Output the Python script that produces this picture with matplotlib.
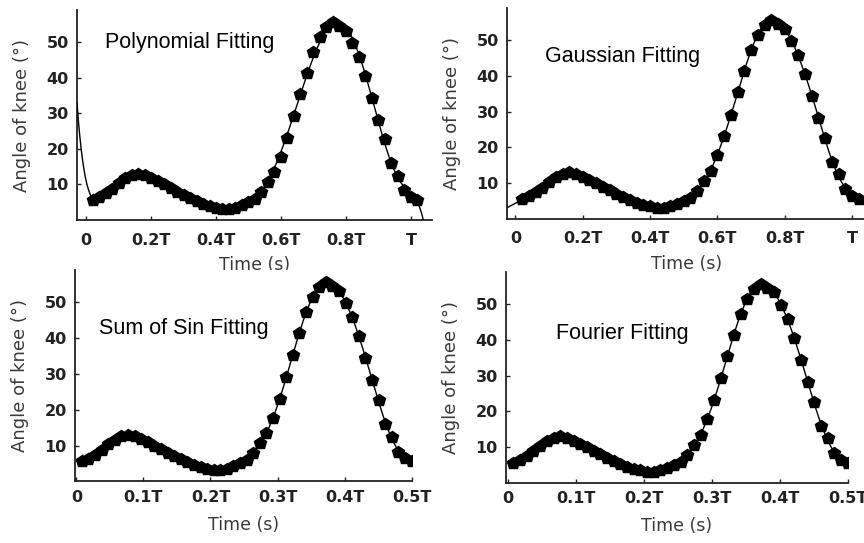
import numpy as np
import matplotlib
matplotlib.use('Agg')
import matplotlib.pyplot as plt

# knee angle (deg) over one gait cycle
angle = [5.6, 6.4, 7.5, 8.8, 10.4, 11.7, 12.6, 13.0, 12.6, 11.8,
         11.0, 10.0, 9.0, 8.0, 7.1, 6.2, 5.4, 4.6, 4.0, 3.5,
         3.2, 3.2, 3.5, 4.2, 5.1, 6.0, 7.9, 10.6, 13.4, 17.8,
         23.1, 29.2, 35.4, 41.4, 47.2, 51.4, 54.2, 55.6, 54.4, 53.2,
         49.8, 45.8, 40.6, 34.4, 28.2, 22.7, 16.0, 12.5, 8.3, 6.5, 5.7]

# sample times (fraction of T) for the full-cycle and half-cycle panels
t_full = np.linspace(0.02, 1.02, len(angle))
t_half = np.linspace(0.008, 0.5, len(angle))

full_ticks = [0, 0.2, 0.4, 0.6, 0.8, 1.0]
full_labels = ['0', '0.2T', '0.4T', '0.6T', '0.8T', 'T']
half_ticks = [0, 0.1, 0.2, 0.3, 0.4, 0.5]
half_labels = ['0', '0.1T', '0.2T', '0.3T', '0.4T', '0.5T']
y_ticks = [10, 20, 30, 40, 50]

titles = ['Polynomial Fitting', 'Gaussian Fitting', 'Sum of Sin Fitting', 'Fourier Fitting']


def poly_fit(t, y, xs, deg=9):
    p = np.polynomial.Polynomial.fit(t, y, deg)
    return p(xs)


def gauss_fit(t, y, xs, n=14, w=0.075):
    c = np.linspace(t.min() - 0.02, t.max() + 0.02, n)
    A = np.exp(-((t[:, None] - c[None, :]) / w) ** 2)
    coef, *_ = np.linalg.lstsq(A, y, rcond=None)
    B = np.exp(-((xs[:, None] - c[None, :]) / w) ** 2)
    return B @ coef


def fourier_fit(t, y, xs, period, nh=7):
    def basis(x):
        cols = [np.ones_like(x)]
        for k in range(1, nh + 1):
            cols.append(np.cos(2 * np.pi * k * x / period))
            cols.append(np.sin(2 * np.pi * k * x / period))
        return np.column_stack(cols)
    coef, *_ = np.linalg.lstsq(basis(t), y, rcond=None)
    return basis(xs) @ coef


fig = plt.figure(figsize=(8.64, 5.43), dpi=100)

# [left, bottom, width, height] in figure fractions
boxes = [[0.0891, 0.5948, 0.4109, 0.3867],
         [0.5868, 0.5967, 0.4150, 0.3886],
         [0.0868, 0.1133, 0.3897, 0.3895],
         [0.5856, 0.1105, 0.3955, 0.3891]]
xlims = [(-0.028, 1.065), (-0.025, 1.04), (-0.002, 0.5), (-0.003, 0.5)]
text_pos = [(0.079, 0.819), (0.107, 0.745), (0.072, 0.699), (0.146, 0.683)]

tick_font = dict(family='DejaVu Sans', weight='bold', size=11.5)
lab_color = '#3a3a3a'

for i in range(4):
    ax = fig.add_axes(boxes[i])
    x0, x1 = xlims[i]
    if i < 2:
        t = t_full
    else:
        t = t_half

    if i == 0:
        xs = np.linspace(x0, x1, 500)
        yfit = poly_fit(t, np.array(angle), xs)
    elif i == 1:
        xs = np.linspace(x0, x1 + 0.01, 500)
        yfit = gauss_fit(t, np.array(angle), xs)
    elif i == 2:
        xs = np.linspace(0, 0.5, 500)
        yfit = fourier_fit(t, np.array(angle), xs, 0.502, nh=8)
    else:
        xs = np.linspace(0, 0.5, 500)
        yfit = fourier_fit(t, np.array(angle), xs, 0.502, nh=7)

    ax.plot(t, angle, linestyle='none', marker='p', markersize=9,
            color='black', zorder=2)
    ax.plot(xs, yfit, color='black', linewidth=1.0, zorder=3)

    ax.set_xlim(x0, x1)
    ax.set_ylim(0, 59)
    ax.spines['top'].set_visible(False)
    ax.spines['right'].set_visible(False)
    for s in ['left', 'bottom']:
        ax.spines[s].set_linewidth(1.3)
        ax.spines[s].set_color('#222222')

    if i < 2:
        ax.set_xticks(full_ticks)
        ax.set_xticklabels(full_labels, fontdict=tick_font, color='#1a1a1a')
        xpad, xlpad = 9, 6
    else:
        ax.set_xticks(half_ticks)
        ax.set_xticklabels(half_labels, fontdict=tick_font, color='#1a1a1a')
        xpad, xlpad = 6, 8
    ax.set_yticks(y_ticks)
    ax.set_yticklabels([str(v) for v in y_ticks], fontdict=tick_font, color='#1a1a1a')
    ax.tick_params(axis='both', direction='in', length=3, width=1.0, colors='#222222')
    ax.tick_params(axis='x', pad=xpad)
    ax.tick_params(axis='y', pad=6)

    ax.set_xlabel('Time (s)', fontsize=12.5, family='DejaVu Sans', color=lab_color,
                  labelpad=xlpad)
    ax.set_ylabel('Angle of knee (°)', fontsize=13, family='DejaVu Sans', color=lab_color,
                  labelpad=11)

    ax.text(text_pos[i][0], text_pos[i][1], titles[i], transform=ax.transAxes,
            fontsize=15.5, family='Liberation Sans', ha='left', va='baseline',
            color='black')

fig.savefig('out.png', dpi=100)
